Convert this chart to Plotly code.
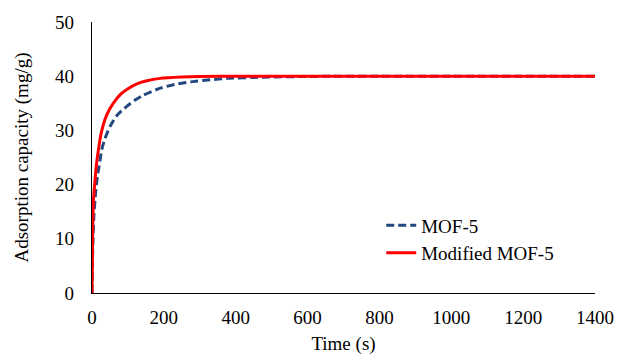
import plotly.graph_objects as go

# Data
time_mof5 = [0, 2, 5, 10, 15, 20, 27, 35, 50, 70, 96, 120, 143, 190, 240, 280, 330, 375, 470, 600, 800, 1000, 1200, 1400]
cap_mof5 = [0, 8, 14, 18.5, 21.5, 23.5, 26.4, 28.3, 30.7, 32.8, 34.4, 35.6, 36.5, 37.8, 38.6, 39.0, 39.35, 39.6, 39.8, 39.95, 40, 40, 40, 40]

time_mod = [0, 2, 4, 8, 12, 18, 25, 36, 48, 60, 80, 100, 125, 150, 190, 250, 300, 400, 600, 800, 1000, 1200, 1400]
cap_mod = [0, 12, 17, 20.5, 23.5, 26.5, 29.3, 32, 33.8, 35.1, 36.7, 37.7, 38.6, 39.1, 39.6, 39.85, 39.95, 40, 40, 40, 40, 40, 40]

x_ticks = [0, 200, 400, 600, 800, 1000, 1200, 1400]
y_ticks = [0, 10, 20, 30, 40, 50]

FONT = "Liberation Serif"
F = dict(family=FONT, size=19, color="black")

fig = go.Figure()
fig.add_trace(go.Scatter(
    x=time_mof5, y=cap_mof5, mode="lines", name="MOF-5",
    line=dict(color="#24477F", width=3, dash="8px,4px", shape="spline", smoothing=0.6),
))
fig.add_trace(go.Scatter(
    x=time_mod, y=cap_mod, mode="lines", name="Modified MOF-5",
    line=dict(color="#FF0000", width=3, shape="spline", smoothing=0.6),
))

fig.update_layout(
    width=617, height=355,
    margin=dict(l=92, r=22, t=22, b=62, autoexpand=False),
    paper_bgcolor="white", plot_bgcolor="white",
    font=F,
    showlegend=True,
    legend=dict(x=0.575, y=0.32, xanchor="left", yanchor="top",
                bgcolor="rgba(0,0,0,0)", borderwidth=0,
                font=F, tracegroupgap=0, itemwidth=30),
    xaxis=dict(range=[0, 1400], tickvals=x_ticks, showgrid=False, zeroline=False,
               showline=True, linecolor="black", linewidth=1.3,
               ticks="", ticklabelstandoff=7, tickfont=F, automargin=False,
               title=dict(text="Time (s)", standoff=11, font=F)),
    yaxis=dict(range=[0, 50], tickvals=y_ticks, showgrid=False, zeroline=False,
               showline=True, linecolor="black", linewidth=1.3,
               ticks="", ticklabelstandoff=13, tickfont=F, automargin=False,
               title=dict(text="Adsorption capacity (mg/g)", standoff=21, font=F)),
)

fig.write_html("out.html")
